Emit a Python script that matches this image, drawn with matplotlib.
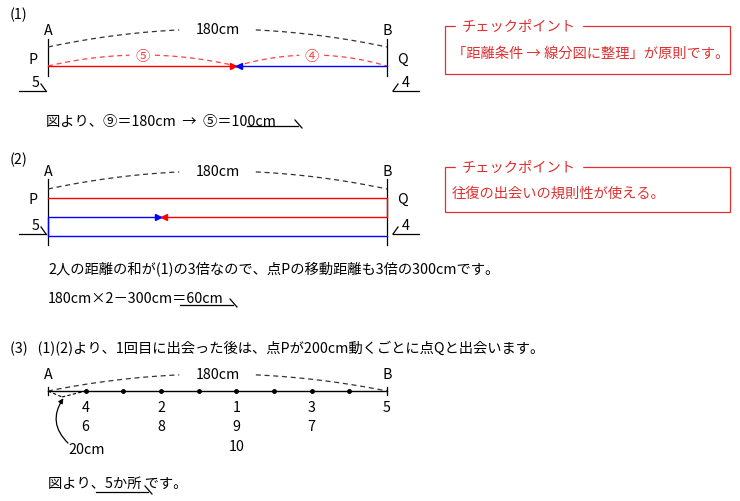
import numpy as np
import matplotlib.pyplot as plt
from matplotlib.patches import Rectangle, FancyArrowPatch

plt.rcParams['font.family'] = ['Noto Sans CJK JP', 'DejaVu Sans']

total_cm = 180
meet1_cm = 100          # (1) first meeting
meet2_cm = 60           # (2) second meeting
ratio_p, ratio_q = 5, 4
dot_cm = [20, 40, 60, 80, 100, 120, 140, 160]
meet_labels = {20: ['4', '6'], 60: ['2', '8'], 100: ['1', '9', '10'], 140: ['3', '7'], 180: ['5']}

XA, XB = 48, 387
def sx(cm):
    return XA + (XB - XA) * cm / total_cm

fig = plt.figure(figsize=(7.4, 5.02), dpi=100)
ax = fig.add_axes([0, 0, 1, 1])
ax.set_xlim(0, 740)
ax.set_ylim(502, 0)
ax.axis('off')
FS = 10.3

def txt(x, y, s, c='black', ha='left', **kw):
    ax.text(x, y, s, color=c, ha=ha, va='center', fontsize=FS, **kw)

def arc(x0, x1, yend, ypeak, c, gap=None, lw=0.9):
    x = np.linspace(x0, x1, 200)
    m = (x0 + x1) / 2
    y = yend - (yend - ypeak) * (1 - ((x - m) / ((x1 - x0) / 2)) ** 2)
    if gap:
        y = np.where(np.abs(x - m) < gap, np.nan, y)
    ax.plot(x, y, color=c, ls=(0, (4, 3)), lw=lw)

def under(x0, x1, y):
    # underline with a small downward tick at the right end
    ax.plot([x0, x1], [y, y], color='black', lw=0.9)
    ax.plot([x1 - 3, x1 + 4], [y - 6, y + 2], color='black', lw=0.9)

def ratio_mark(x0, x1, y, right):
    ax.plot([x0, x1], [y, y], color='black', lw=0.9)
    if right:
        ax.plot([x1 - 5, x1], [y - 7, y], color='black', lw=0.9)
    else:
        ax.plot([x0, x0 + 5], [y, y - 7], color='black', lw=0.9)

def box(y0, y1, body):
    ax.add_patch(Rectangle((445, y0), 285, y1 - y0, fill=False, ec='#e03030', lw=0.9))
    txt(462, y0, 'チェックポイント', c='#e03030', backgroundcolor='white')
    txt(452, (y0 + y1) / 2 + 3, body, c='#e03030')

# ---- (1)
txt(10, 15, '(1)')
txt(XA, 31, 'A', ha='center'); txt(XB, 31, 'B', ha='center')
for x in (XA, XB):
    ax.plot([x, x], [40, 77], color='black', lw=0.9)
arc(XA, XB, 48, 30, '#333333', gap=38)
txt(sx(90), 30, '180cm', ha='center')
xm = sx(meet1_cm)
arc(XA, xm, 67, 56, '#ff4040', gap=12)
arc(xm, XB, 67, 56, '#ff4040', gap=12)
txt((XA + xm) / 2, 57, '⑤', c='#ff4040', ha='center')
txt((xm + XB) / 2, 57, '④', c='#ff4040', ha='center')
ax.plot([XA, xm], [67, 67], color='red', lw=1)
ax.plot([XB, xm], [67, 67], color='blue', lw=1)
ax.plot(xm - 3, 67, marker='>', color='red', ms=4)
ax.plot(xm + 3, 67, marker='<', color='blue', ms=4)
txt(33, 60, 'P', ha='center'); txt(402, 60, 'Q', ha='center')
txt(36, 83, str(ratio_p), ha='center'); ratio_mark(19, 46, 92, True)
txt(406, 83, str(ratio_q), ha='center'); ratio_mark(393, 419, 92, False)
txt(46, 122, '図より、⑨＝180cm  →  ⑤＝100cm')
under(247, 298, 127)
box(27, 75, '「距離条件 → 線分図に整理」が原則です。')

# ---- (2)
txt(10, 160, '(2)')
txt(XA, 172, 'A', ha='center'); txt(XB, 172, 'B', ha='center')
for x in (XA, XB):
    ax.plot([x, x], [180, 246], color='black', lw=0.9)
arc(XA, XB, 190, 172, '#333333', gap=38)
txt(sx(90), 172, '180cm', ha='center')
xm2 = sx(meet2_cm)
ax.plot([XA, XB, XB, xm2], [199, 199, 218, 218], color='red', lw=1)
ax.plot([xm2, XA, XA, XB], [218, 218, 237, 237], color='blue', lw=1)
ax.plot(xm2 - 3, 218, marker='>', color='blue', ms=4)
ax.plot(xm2 + 3, 218, marker='<', color='red', ms=4)
txt(33, 200, 'P', ha='center'); txt(402, 200, 'Q', ha='center')
txt(36, 226, str(ratio_p), ha='center'); ratio_mark(19, 46, 235, True)
txt(406, 226, str(ratio_q), ha='center'); ratio_mark(393, 419, 235, False)
txt(48, 270, '2人の距離の和が(1)の3倍なので、点Pの移動距離も3倍の300cmです。')
txt(48, 299, '180cm×2－300cm＝60cm')
under(180, 233, 306)
box(168, 213, '往復の出会いの規則性が使える。')

# ---- (3)
txt(10, 349, '(3)   (1)(2)より、1回目に出会った後は、点Pが200cm動くごとに点Qと出会います。')
txt(XA, 375, 'A', ha='center'); txt(XB, 375, 'B', ha='center')
ax.plot([XA, XB], [392, 392], color='black', lw=1)
for x in (XA, XB):
    ax.plot([x, x], [388, 396], color='black', lw=0.9)
ax.plot([sx(c) for c in dot_cm], [392] * len(dot_cm), 'o', color='black', ms=2.5)
arc(XA, XB, 392, 375, '#333333', gap=38)
txt(sx(90), 375, '180cm', ha='center')
ax.plot([XA, 62], [392, 398], color='black', ls=(0, (3, 2)), lw=0.8)
ax.plot([62, sx(20)], [398, 392], color='black', ls=(0, (3, 2)), lw=0.8)
ax.add_patch(FancyArrowPatch((70, 446), (65, 397), connectionstyle='arc3,rad=-0.45',
                             arrowstyle='-|>', mutation_scale=7, color='black', lw=0.9))
txt(68, 450, '20cm')
for cm, labs in meet_labels.items():
    for i, s in enumerate(labs):
        txt(sx(cm), 408 + 19.5 * i, s, ha='center')
txt(48, 484, '図より、5か所 です。')
under(96, 148, 493)

fig.savefig('out.png', dpi=100)
